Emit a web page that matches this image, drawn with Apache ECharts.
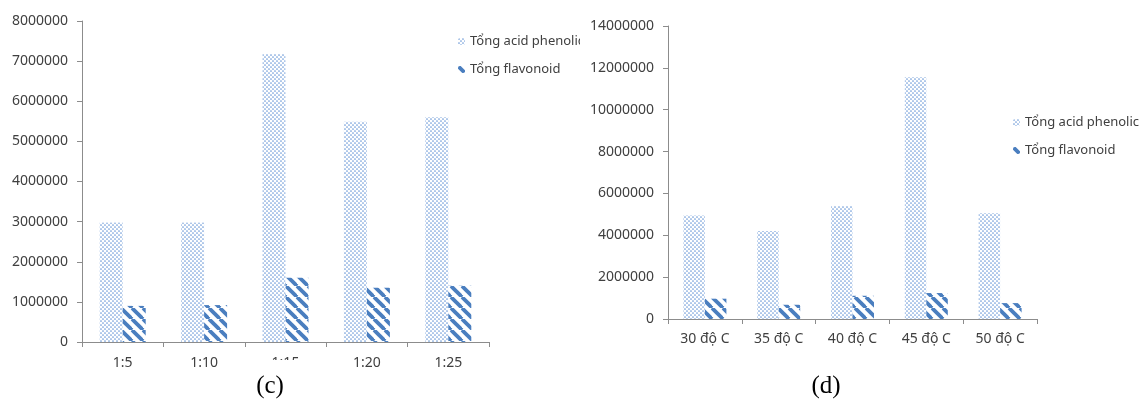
<!DOCTYPE html>
<html>
<head>
<meta charset="utf-8">
<script src="https://cdn.jsdelivr.net/npm/echarts@6/dist/echarts.min.js"></script>
<style>
  html, body { margin: 0; padding: 0; background: #fff; }
  #wrap { position: relative; width: 1140px; height: 402px; overflow: hidden; }
  #chartC { position: absolute; left: 0; top: 0; width: 580px; height: 402px; }
  #chartD { position: absolute; left: 580px; top: 0; width: 560px; height: 402px; }
</style>
</head>
<body>
<div id="wrap">
  <div id="chartC"></div>
  <div id="chartD"></div>
</div>
<script>
// (c) ti le nguyen lieu / dung moi
var catC = ['1:5', '1:10', '1:15', '1:20', '1:25'];
var phenolicC = [2980000, 2980000, 7180000, 5490000, 5600000];
var flavonoidC = [900000, 920000, 1600000, 1350000, 1400000];

// (d) nhiet do
var catD = ['30 độ C', '35 độ C', '40 độ C', '45 độ C', '50 độ C'];
var phenolicD = [4950000, 4200000, 5400000, 11550000, 5050000];
var flavonoidD = [970000, 680000, 1110000, 1240000, 760000];

var nameP = 'Tổng acid phenolic';
var nameF = 'Tổng flavonoid';

// hoa van cham (phenolic)
function dotPattern() {
  var c = document.createElement('canvas');
  c.width = 4; c.height = 4;
  var ctx = c.getContext('2d');
  ctx.fillStyle = '#fff';
  ctx.fillRect(0, 0, 4, 4);
  ctx.fillStyle = '#6f9bd8';
  ctx.beginPath(); ctx.arc(1, 1, 0.85, 0, Math.PI * 2); ctx.fill();
  ctx.beginPath(); ctx.arc(3, 3, 0.85, 0, Math.PI * 2); ctx.fill();
  return { image: c, repeat: 'repeat' };
}
// hoa van soc cheo (flavonoid)
function stripePattern() {
  var s = 11;
  var c = document.createElement('canvas');
  c.width = s; c.height = s;
  var ctx = c.getContext('2d');
  ctx.fillStyle = '#fff';
  ctx.fillRect(0, 0, s, s);
  ctx.strokeStyle = '#4a7ebf';
  ctx.lineWidth = 3.8;
  [-s, 0, s].forEach(function (k) {
    ctx.beginPath();
    ctx.moveTo(k, 0);
    ctx.lineTo(k + s, s);
    ctx.stroke();
  });
  return { image: c, repeat: 'repeat' };
}

var font = '"Noto Sans", "Open Sans", sans-serif';
var axisColor = '#8c8c8c';
var textColor = '#404040';

function makeOption(cfg) {
  return {
    animation: false,
    grid: cfg.grid,
    legend: {
      orient: 'vertical',
      left: cfg.legendLeft,
      top: cfg.legendTop,
      itemWidth: 7,
      itemHeight: 7,
      itemGap: 15,
      textStyle: { fontFamily: font, fontSize: 13, color: textColor },
      data: [nameP, nameF]
    },
    xAxis: {
      type: 'category',
      data: cfg.cats,
      axisLine: { lineStyle: { color: axisColor, width: 1 } },
      axisTick: { show: true, length: 5, lineStyle: { color: axisColor } },
      axisLabel: { margin: cfg.xMargin, fontFamily: font, fontSize: 14, color: textColor, interval: 0 }
    },
    yAxis: {
      type: 'value',
      min: 0,
      max: cfg.max,
      interval: cfg.interval,
      axisLine: { show: true, lineStyle: { color: axisColor, width: 1 } },
      axisTick: { show: true, length: 5, lineStyle: { color: axisColor } },
      splitLine: { show: false },
      axisLabel: {
        margin: 14, fontFamily: font, fontSize: 14, color: textColor,
        formatter: function (v) { return String(v); }
      }
    },
    graphic: cfg.graphic,
    series: [
      {
        name: nameP,
        type: 'bar',
        data: cfg.p,
        barWidth: cfg.barWidth,
        barGap: '0%',
        itemStyle: { color: dotPattern() }
      },
      {
        name: nameF,
        type: 'bar',
        data: cfg.f,
        barWidth: cfg.barWidth,
        barGap: '0%',
        itemStyle: { color: stripePattern() }
      }
    ]
  };
}

var chartC = echarts.init(document.getElementById('chartC'));
chartC.setOption(makeOption({
  cats: catC, p: phenolicC, f: flavonoidC,
  max: 8000000, interval: 1000000,
  grid: { left: 82, right: 91, top: 21, bottom: 60 },
  legendLeft: 453, legendTop: 30,
  xMargin: 14,
  barWidth: 23,
  graphic: [
    { type: 'rect', shape: { x: 236, y: 360, width: 96, height: 42 }, style: { fill: '#fff' }, z: 100 },
    { type: 'text', x: 270, y: 386, z: 101,
      style: { text: '(c)', fontFamily: '"Liberation Serif", serif', fontSize: 25, fill: '#000', align: 'center', verticalAlign: 'middle' } }
  ]
}));

var chartD = echarts.init(document.getElementById('chartD'));
chartD.setOption(makeOption({
  cats: catD, p: phenolicD, f: flavonoidD,
  max: 14000000, interval: 2000000,
  grid: { left: 88, right: 103, top: 26, bottom: 83 },
  legendLeft: 428, legendTop: 111,
  xMargin: 13,
  barWidth: 21.5,
  graphic: [
    { type: 'text', x: 246, y: 386,
      style: { text: '(d)', fontFamily: '"Liberation Serif", serif', fontSize: 25, fill: '#000', align: 'center', verticalAlign: 'middle' } }
  ]
}));
</script>
</body>
</html>
